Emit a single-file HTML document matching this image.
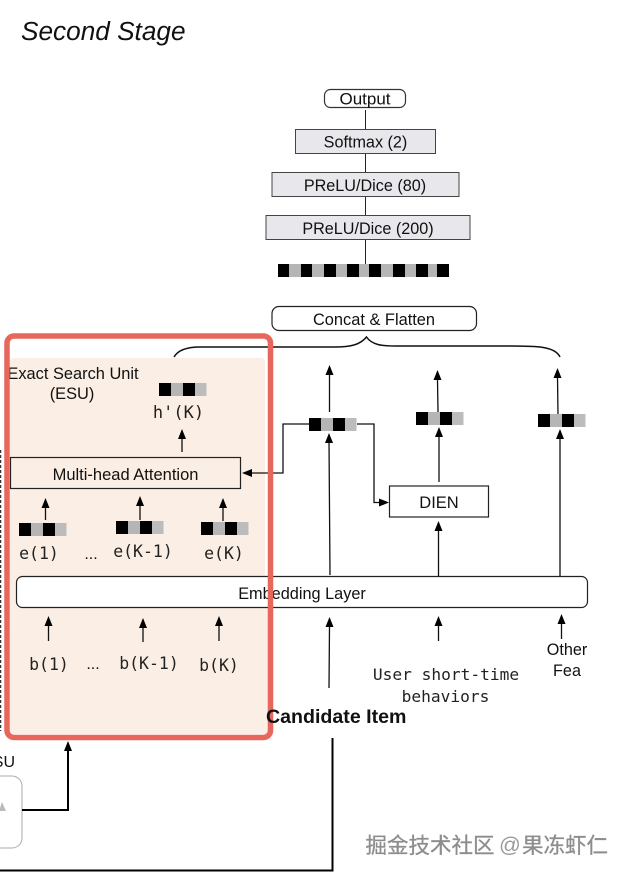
<!DOCTYPE html>
<html>
<head>
<meta charset="utf-8">
<style>
html,body{margin:0;padding:0;background:#fff;width:630px;height:878px;overflow:hidden}
svg{display:block}
text{font-family:"Liberation Sans","Noto Sans CJK SC",sans-serif;fill:#111}
.m{font-family:"DejaVu Sans Mono","Liberation Mono",monospace;fill:#222}
</style>
</head>
<body>
<svg width="630" height="878" viewBox="0 0 630 878" xmlns="http://www.w3.org/2000/svg">
<defs>
<g id="bar">
<rect x="0" y="0" width="12" height="13" fill="#000"/>
<rect x="12" y="0" width="12" height="13" fill="#b5b5b5"/>
<rect x="24" y="0" width="12" height="13" fill="#000"/>
<rect x="36" y="0" width="11.500" height="13" fill="#bcbcbc"/>
</g>
</defs>

<text x="21" y="40" font-size="26.200" font-style="italic">Second Stage</text>

<!-- ESU fill -->
<rect x="10" y="358" width="255" height="376" rx="4" fill="#fbeee4"/>
<rect x="264" y="600" width="4" height="134" fill="#fbeee4"/>

<!-- top stack lines -->
<g stroke="#222" stroke-width="1" fill="none">
<line x1="365.500" y1="110" x2="365.500" y2="264"/>
</g>
<rect x="324.500" y="89.500" width="81" height="18" rx="6" fill="#fff" stroke="#333" stroke-width="1.200"/>
<text x="365" y="104.500" font-size="17" text-anchor="middle">Output</text>
<rect x="295.500" y="129.500" width="140" height="24" fill="#e8e8ec" stroke="#444" stroke-width="1"/>
<text x="365.500" y="147.500" font-size="16.200" text-anchor="middle">Softmax (2)</text>
<rect x="272" y="172.500" width="187" height="24" fill="#e8e8ec" stroke="#444" stroke-width="1"/>
<text x="365" y="191" font-size="16.200" text-anchor="middle">PReLU/Dice (80)</text>
<rect x="266" y="215.500" width="204" height="24" fill="#e8e8ec" stroke="#444" stroke-width="1"/>
<text x="368" y="234" font-size="16.200" text-anchor="middle">PReLU/Dice (200)</text>

<!-- long bar -->
<g>
<rect x="278" y="264" width="171" height="13" fill="#000"/>
<rect x="289" y="264" width="12" height="13" fill="#b5b5b5"/>
<rect x="312" y="264" width="12" height="13" fill="#b5b5b5"/>
<rect x="336" y="264" width="11" height="13" fill="#b5b5b5"/>
<rect x="359" y="264" width="10" height="13" fill="#b5b5b5"/>
<rect x="381" y="264" width="12" height="13" fill="#b5b5b5"/>
<rect x="405" y="264" width="11" height="13" fill="#b5b5b5"/>
<rect x="428" y="264" width="9" height="13" fill="#b5b5b5"/>
</g>

<!-- concat -->
<rect x="272" y="306.500" width="204.500" height="24" rx="7" fill="#fff" stroke="#222" stroke-width="1.200"/>
<text x="374" y="325" font-size="16.400" text-anchor="middle">Concat &amp; Flatten</text>

<!-- brace -->
<path d="M174 357 C178 350 188 347 200 347 L335 347 C350 347 360 345 366.500 337 C372 345 382 346 395 346 L510 346 C535 346 555 346 560 357" fill="none" stroke="#111" stroke-width="1.500"/>

<!-- right arrows -->
<g stroke="#111" stroke-width="1.300" fill="none">
<line x1="329.500" y1="412" x2="329.500" y2="375"/>
<line x1="438" y1="412" x2="437.500" y2="380"/>
<line x1="558" y1="415" x2="557.500" y2="377"/>
<line x1="330" y1="575" x2="329" y2="441"/>
<line x1="439" y1="482" x2="439" y2="436"/>
<line x1="438.500" y1="576" x2="438.500" y2="530"/>
<line x1="560" y1="576" x2="560" y2="438"/>
<path d="M357 424 H374 V502.500 H382"/>
<path d="M309 424 H283 V473 H250"/>
<line x1="329" y1="688" x2="329.500" y2="626"/>
<line x1="438.500" y1="641" x2="438.500" y2="625"/>
<line x1="561.500" y1="639" x2="561.500" y2="623"/>
<line x1="182" y1="452" x2="182" y2="438"/>
<line x1="45.500" y1="520" x2="45.500" y2="506"/>
<line x1="140" y1="520" x2="140" y2="504"/>
<line x1="223" y1="521" x2="223" y2="506"/>
<line x1="48.500" y1="641" x2="48.500" y2="625"/>
<line x1="143" y1="642" x2="143" y2="626"/>
<line x1="219" y1="641" x2="219" y2="625"/>
</g>
<g fill="#000">
<path d="M329.500 365 l-4 10 h8z"/>
<path d="M437.500 370 l-4 10 h8z"/>
<path d="M557.500 368 l-4 10 h8z"/>
<path d="M329 433 l-4 10 h8z"/>
<path d="M439 427 l-4 10 h8z"/>
<path d="M438.500 521 l-4 10 h8z"/>
<path d="M560 429 l-4 10 h8z"/>
<path d="M389 502.500 l-10 -4 v8z"/>
<path d="M242 473 l10 -4 v8z"/>
<path d="M329.500 617 l-4 10 h8z"/>
<path d="M438.500 616 l-4 10 h8z"/>
<path d="M561.500 614 l-4 10 h8z"/>
<path d="M182 429 l-4 10 h8z"/>
<path d="M45.500 498 l-4 10 h8z"/>
<path d="M140 496 l-4 10 h8z"/>
<path d="M223 498 l-4 10 h8z"/>
<path d="M48.500 616 l-4 10 h8z"/>
<path d="M143 618 l-4 10 h8z"/>
<path d="M219 616 l-4 10 h8z"/>
</g>

<!-- vector bars -->
<use href="#bar" x="309" y="418"/>
<use href="#bar" x="416" y="412"/>
<use href="#bar" x="538" y="414"/>
<use href="#bar" x="159" y="383"/>
<use href="#bar" x="19" y="523"/>
<use href="#bar" x="116" y="521"/>
<use href="#bar" x="201" y="522"/>

<!-- DIEN -->
<rect x="389.500" y="486" width="99" height="31" fill="#fff" stroke="#222" stroke-width="1.200"/>
<text x="439" y="508" font-size="16.500" text-anchor="middle">DIEN</text>

<!-- Multi-head -->
<rect x="10.500" y="457.500" width="230" height="31" fill="#fbeee4" stroke="#222" stroke-width="1.200"/>
<text x="125.500" y="480" font-size="16.500" text-anchor="middle">Multi-head Attention</text>

<!-- Embedding -->
<rect x="16.500" y="576.500" width="571" height="31" rx="6" fill="#fff" stroke="#222" stroke-width="1.200"/>
<text x="302" y="599" font-size="16.300" text-anchor="middle">Embedding Layer</text>

<!-- ESU labels -->
<text x="73" y="379" font-size="16.400" text-anchor="middle">Exact Search Unit</text>
<text x="72" y="399" font-size="16.400" text-anchor="middle">(ESU)</text>
<text class="m" x="178.500" y="418" font-size="17" text-anchor="middle">h'(K)</text>
<text class="m" x="39" y="559" font-size="16.500" text-anchor="middle">e(1)</text>
<text x="91" y="559" font-size="16" text-anchor="middle">...</text>
<text class="m" x="143" y="557" font-size="16.500" text-anchor="middle">e(K-1)</text>
<text class="m" x="224" y="559" font-size="16.500" text-anchor="middle">e(K)</text>
<text class="m" x="49" y="670" font-size="16.500" text-anchor="middle">b(1)</text>
<text x="93" y="669" font-size="16" text-anchor="middle">...</text>
<text class="m" x="149" y="669" font-size="16.500" text-anchor="middle">b(K-1)</text>
<text class="m" x="219" y="671" font-size="16.500" text-anchor="middle">b(K)</text>

<text class="m" x="446" y="680" font-size="16.200" text-anchor="middle">User short-time</text>
<text class="m" x="445.500" y="702" font-size="16.200" text-anchor="middle">behaviors</text>
<text x="567" y="655" font-size="16.200" text-anchor="middle">Other</text>
<text x="567" y="676" font-size="16.200" text-anchor="middle">Fea</text>

<!-- red frame -->
<rect x="7" y="336" width="263.500" height="401.500" rx="7" fill="none" stroke="#e8675c" stroke-width="5.500"/>

<text x="266" y="723" font-size="19.600" font-weight="bold">Candidate Item</text>

<!-- dashed left -->
<line x1="0.500" y1="450" x2="0.500" y2="731" stroke="#333" stroke-width="1.500" stroke-dasharray="3 2"/>

<!-- bottom left -->
<text x="15" y="767" font-size="16" text-anchor="end">ESU</text>
<rect x="-20" y="776" width="42" height="72" rx="10" fill="#fff" stroke="#aaa" stroke-width="1"/>
<path d="M-1 811 L2 802 L6 811z" fill="#bbb"/>
<path d="M22 810 H68 V750" fill="none" stroke="#000" stroke-width="2"/>
<path d="M68 741 l-4 10 h8z" fill="#000"/>
<path d="M0 870.500 H332.500 V738" fill="none" stroke="#000" stroke-width="2"/>

<!-- watermark -->
<g font-size="21.500" style="font-family:'Noto Sans CJK SC','Liberation Sans',sans-serif">
<text x="365.500" y="853" fill="#fff" style="fill:#8d8d8d;stroke:#8d8d8d;stroke-width:0.300;font-family:'Noto Sans CJK SC',sans-serif">掘金技术社区</text>
<text x="499" y="852" style="fill:#9a9a9a;font-family:'Liberation Sans',sans-serif">@</text>
<text x="522" y="853" style="fill:#8d8d8d;stroke:#8d8d8d;stroke-width:0.300;font-family:'Noto Sans CJK SC',sans-serif">果冻虾仁</text>
</g>
</svg>
</body>
</html>
